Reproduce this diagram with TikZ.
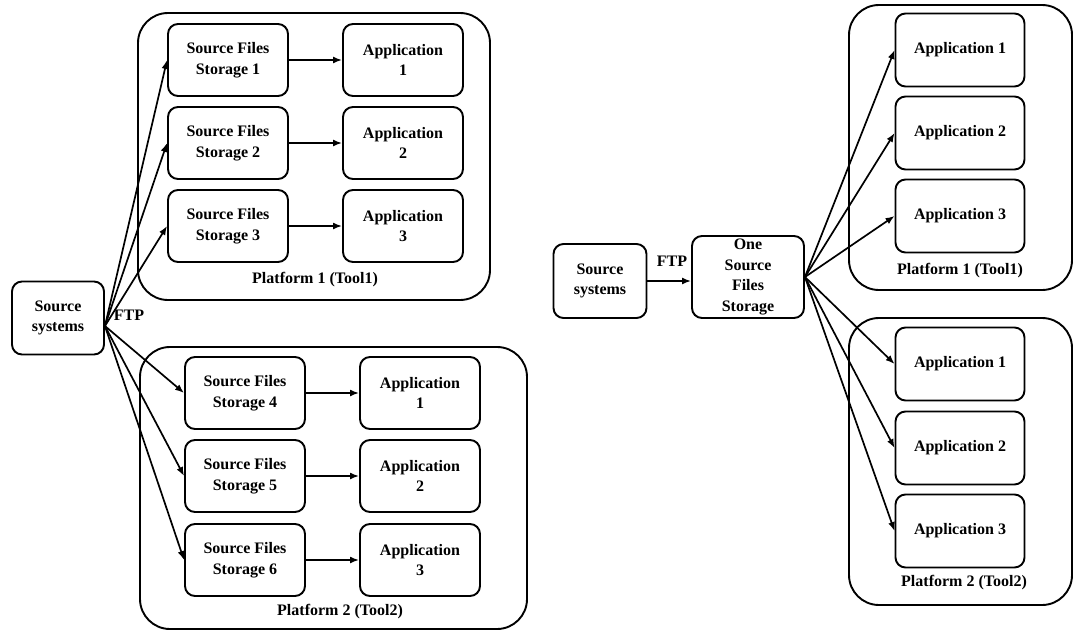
\documentclass[tikz,border=0pt]{standalone}
\usepackage{fontspec}
\setmainfont{Liberation Serif}
\usepackage{tikz}
\usetikzlibrary{arrows.meta}

\begin{document}
\begin{tikzpicture}[x=1pt,y=-1pt,
  every node/.style={font=\fontsize{16}{20.5}\selectfont\bfseries,align=center},
  box/.style={draw,line width=1.9pt,rounded corners=10pt,inner sep=1pt},
  stbox/.style={box,minimum width=120pt,minimum height=72pt},
  appbox/.style={box,minimum width=120pt,minimum height=72pt},
  rappbox/.style={box,minimum width=129pt,minimum height=73pt},
  platform/.style={draw,line width=1.9pt,rounded corners=30pt},
  arr/.style={line width=1.7pt,-{Latex[length=9pt,width=7pt]}}]
\useasboundingbox (0,0) rectangle (1075,632);
% left: one storage per application
\node [box,minimum width=92pt,minimum height=73pt] (src1) at (58,318) {Source\\systems};
\node [platform,minimum width=352pt,minimum height=287pt] (plat1) at (314,156.5) {};
\node [platform,minimum width=387pt,minimum height=282pt] (plat2) at (333.5,488) {};
\node (plat1lbl) at (315,280) {Platform 1 (Tool1)};
\node (plat2lbl) at (340,612) {Platform 2 (Tool2)};
\node [stbox] (st1) at (228,60) {Source Files\\Storage 1};
\node [stbox] (st2) at (228,143) {Source Files\\Storage 2};
\node [stbox] (st3) at (228,226) {Source Files\\Storage 3};
\node [stbox] (st4) at (245,393) {Source Files\\Storage 4};
\node [stbox] (st5) at (245,476) {Source Files\\Storage 5};
\node [stbox] (st6) at (245,560) {Source Files\\Storage 6};
\node [appbox] (ap1) at (403,60) {Application\\1};
\node [appbox] (ap2) at (403,143) {Application\\2};
\node [appbox] (ap3) at (403,226) {Application\\3};
\node [appbox] (ap4) at (420,393) {Application\\1};
\node [appbox] (ap5) at (420,476) {Application\\2};
\node [appbox] (ap6) at (420,560) {Application\\3};
\node (ftp1) at (129,315) {FTP};
\coordinate (fan1) at ([yshift=-8pt]src1.east);
\foreach \i in {1,...,6} {
  \draw [arr] (fan1) -- (st\i.west);
  \draw [arr] (st\i.east) -- (ap\i.west);
}
% right: one shared storage
\node [box,minimum width=93pt,minimum height=74pt] (src2) at (600,281) {Source\\systems};
\node [box,minimum width=112pt,minimum height=82pt] (one) at (748,277) {One\\Source\\Files\\Storage};
\node [platform,minimum width=223pt,minimum height=285pt] (rplat1) at (960.5,147.5) {};
\node [platform,minimum width=223pt,minimum height=287pt] (rplat2) at (960.5,461.5) {};
\node (rplat1lbl) at (960,271) {Platform 1 (Tool1)};
\node (rplat2lbl) at (964,583) {Platform 2 (Tool2)};
\node [rappbox] (ra1) at (960,50) {Application 1};
\node [rappbox] (ra2) at (960,133) {Application 2};
\node [rappbox] (ra3) at (960,216) {Application 3};
\node [rappbox] (rb1) at (960,364) {Application 1};
\node [rappbox] (rb2) at (960,448) {Application 2};
\node [rappbox] (rb3) at (960,531) {Application 3};
\node (ftp2) at (672,261) {FTP};
\draw [arr] (src2.east) -- (src2.east -| one.west);
\foreach \i in {1,2,3} {
  \draw [arr] (one.east) -- (ra\i.west);
  \draw [arr] (one.east) -- (rb\i.west);
}
\end{tikzpicture}
\end{document}
